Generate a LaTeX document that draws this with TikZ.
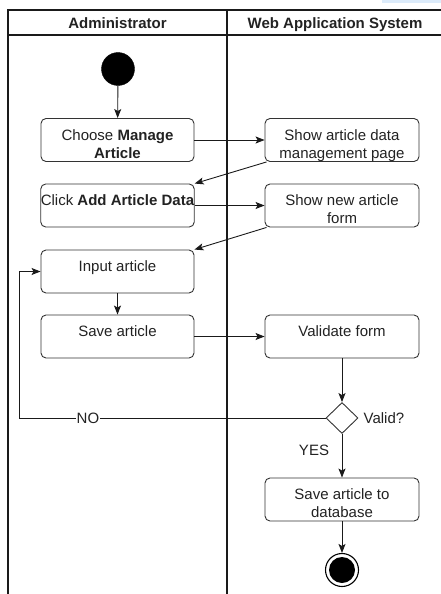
\documentclass[tikz,border=0pt]{standalone}
\usepackage{fontspec}
\setmainfont{Liberation Sans}
\usetikzlibrary{arrows.meta,shapes.geometric}
\definecolor{ink}{HTML}{222222}
\definecolor{edge}{HTML}{333333}
\definecolor{lane}{HTML}{1A1A1A}
\definecolor{selblue}{HTML}{DCEBFA}
\begin{document}
\begin{tikzpicture}[x=1pt,y=-1pt,
  txt/.style={font=\fontsize{15}{18}\selectfont, text=ink},
  action/.style={txt, draw=edge, line width=0.9pt, rounded corners=5pt,
    minimum width=153pt, minimum height=43pt, inner sep=0pt, align=center,
    text height=0pt, text depth=0pt},
  % two-line labels: keep the first baseline on the box centre
  twoline/.style={text height=36pt, text depth=0pt},
  lanehead/.style={txt, font=\fontsize{15}{18}\selectfont\bfseries, text=ink, anchor=base},
  lanerule/.style={draw=lane, line width=1.1pt},
  flow/.style={draw=lane, line width=0.9pt, -{Stealth[length=9pt,width=7pt,inset=2pt]}},
  guard/.style={txt, inner sep=1pt}]
\useasboundingbox (0,0) rectangle (441,594);

% selection strip at the top edge
\fill[selblue] (382,0) rectangle (441,3);

% swimlanes
\draw[lanerule] (8,594) -- (8,10) -- (441,10);
\draw[lanerule] (8,35) -- (441,35);
\draw[lanerule] (227,10) -- (227,594);
\node[lanehead] (hadmin) at (117.5,28.5) {Administrator};
\node[lanehead] (hweb) at (335,28.5) {Web Application System};

% initial node
\node[circle, fill=black, draw=black, minimum size=33pt, inner sep=0pt] (start) at (118,69) {};

% administrator actions
\node[action, twoline] (choose) at (117.5,140) {Choose \textbf{Manage}\\\textbf{Article}};
\node[action] (click) at (117.5,205.5) {Click \textbf{Add Article Data}};
\node[action] (input) at (117.5,271.5) {Input article};
\node[action] (save) at (117.5,336.5) {Save article};

% system actions
\node[action, twoline, minimum width=154pt] (showpage) at (342,140) {Show article data\\management page};
\node[action, twoline, minimum width=154pt] (showform) at (342,205.5) {Show new article\\form};
\node[action, minimum width=154pt] (validate) at (342,336.5) {Validate form};
\node[diamond, draw=edge, line width=0.9pt, minimum width=32pt, minimum height=31pt, inner sep=0pt] (valid) at (342,418) {};
\node[txt, anchor=west, inner sep=0pt] (validlbl) at ([xshift=5pt]valid.east) {Valid?};
\node[action, twoline, minimum width=154pt] (store) at (342,499.5) {Save article to\\database};

% final node
\node[circle, draw=black, line width=1.1pt, minimum size=33pt, inner sep=0pt,
  path picture={\fill[black] (path picture bounding box.center) circle (13pt);}] (final) at (342,570) {};

% control flow
\draw[flow] (start) -- (choose);
\draw[flow] (choose.east) -- (showpage.west);
\draw[flow] ([xshift=2pt]showpage.south west) -- (click.north east);
\draw[flow] (click.east) -- (showform.west);
\draw[flow] ([xshift=2pt]showform.south west) -- (input.north east);
\draw[flow] (input) -- (save);
\draw[flow] (save.east) -- (validate.west);
\draw[flow] (validate) -- (valid);
\coordinate (loopcorner) at (19,418);
\draw[flow] (valid.west) -- node[guard, fill=white, pos=0.775] (nolbl) {NO} (loopcorner) |- (input.west);
\draw[flow] (valid) -- (store);
\node[txt, inner sep=0pt] (yeslbl) at (314,450) {YES};
\draw[flow] (store) -- (final);
\end{tikzpicture}
\end{document}
